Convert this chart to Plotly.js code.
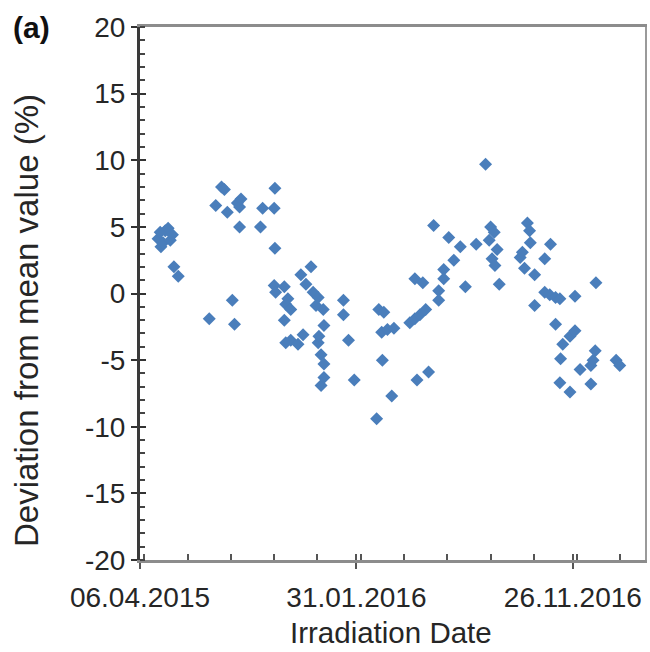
<!DOCTYPE html>
<html>
<head>
<meta charset="utf-8">
<script src="https://cdn.plot.ly/plotly-3.0.1.min.js"></script>
<style>
  html, body { margin: 0; padding: 0; background: #ffffff; }
  #chart { width: 650px; height: 652px; }
</style>
</head>
<body>
<div id="chart"></div>
<script>
// Irradiation dates of the measurements
const irradiationDates = [
  '2015-05-01','2015-05-04','2015-05-05','2015-05-08','2015-05-11','2015-05-15','2015-05-18','2015-05-21','2015-05-23','2015-05-29',
  '2015-07-11','2015-07-20','2015-07-28','2015-08-01','2015-08-05','2015-08-12','2015-08-15','2015-08-19','2015-08-22','2015-08-22',
  '2015-08-24','2015-09-20','2015-09-23','2015-10-09','2015-10-09','2015-10-10','2015-10-10','2015-10-11','2015-10-23','2015-10-23',
  '2015-10-25','2015-10-25','2015-10-28','2015-11-01','2015-11-01','2015-11-11','2015-11-15','2015-11-18','2015-11-22','2015-11-29',
  '2015-12-02','2015-12-06','2015-12-09','2015-12-09','2015-12-10','2015-12-13','2015-12-13','2015-12-16','2015-12-17','2015-12-17',
  '2015-12-17','2016-01-13','2016-01-13','2016-01-20','2016-01-28','2016-02-28','2016-03-02','2016-03-06','2016-03-07','2016-03-09',
  '2016-03-14','2016-03-20','2016-03-23','2016-04-14','2016-04-21','2016-04-21','2016-04-24','2016-04-28','2016-05-02','2016-05-06',
  '2016-05-10','2016-05-17','2016-05-24','2016-05-24','2016-05-31','2016-05-31','2016-06-07','2016-06-14','2016-06-23','2016-06-30',
  '2016-07-15','2016-07-28','2016-08-02','2016-08-04','2016-08-06','2016-08-09','2016-08-10','2016-08-13','2016-08-16','2016-09-14',
  '2016-09-17','2016-09-20','2016-09-24','2016-09-27','2016-09-28','2016-10-04','2016-10-04','2016-10-18','2016-10-18','2016-10-25',
  '2016-10-26','2016-11-02','2016-11-02','2016-11-08','2016-11-08','2016-11-09','2016-11-12','2016-11-22','2016-11-22','2016-11-29',
  '2016-11-29','2016-12-06','2016-12-21','2016-12-21','2016-12-24','2016-12-27','2016-12-28','2017-01-25','2017-01-30'
];

// Deviation from the mean value, in percent
const deviationPct = [
  4.1, 4.6, 3.5, 3.8, 4.7, 4.9, 4.0, 4.4, 2.0, 1.3,
  -1.9, 6.6, 8.0, 7.8, 6.1, -0.5, -2.3, 6.8, 6.5, 5.0,
  7.1, 5.0, 6.4, 6.4, 0.6, 7.9, 3.4, 0.1, 0.5, -2.0,
  -0.8, -3.7, -0.4, -1.2, -3.5, -3.8, 1.4, -3.1, 0.7, 2.0,
  0.1, -0.9, -0.3, -3.7, -3.2, -4.6, -6.9, -1.2, -2.4, -5.3,
  -6.3, -0.5, -1.6, -3.5, -6.5, -9.4, -1.2, -2.9, -5.0, -1.4,
  -2.7, -7.7, -2.6, -2.2, -1.9, 1.1, -6.5, -1.6, 0.8, -1.2,
  -5.9, 5.1, 0.2, -0.5, 1.1, 1.8, 4.2, 2.5, 3.5, 0.5,
  3.7, 9.7, 4.0, 5.0, 2.6, 4.6, 2.1, 3.3, 0.7, 2.7,
  3.1, 1.9, 5.3, 4.7, 3.8, 1.4, -0.9, 2.6, 0.1, -0.1,
  3.7, -0.3, -2.3, -0.4, -6.7, -4.9, -3.8, -3.2, -7.4, -0.2,
  -2.8, -5.7, -5.4, -6.8, -5.0, -4.3, 0.8, -5.0, -5.4
];

// Value axis ticks and their labels (plain hyphen minus)
const valueTicks = [-20, -15, -10, -5, 0, 5, 10, 15, 20];
const valueTickLabels = ['-20', '-15', '-10', '-5', '0', '5', '10', '15', '20'];

// Axis settings
const dateRange = ['2015-04-06', '2017-03-06'];
const dateTickStart = '2015-04-06';
const DAY_MS = 86400000;
const majorDateStep = 300 * DAY_MS;
const minorDateStep = 60 * DAY_MS;
const valueRange = [-20, 20];

const fontFamily = 'Liberation Sans, Arial, sans-serif';
const tickFont = { family: fontFamily, size: 28, color: '#262626' };

const traces = [
  {
    type: 'scatter',
    mode: 'markers',
    x: irradiationDates,
    y: deviationPct,
    marker: { symbol: 'diamond', size: 10, color: '#4a7ebb', line: { width: 0 } },
    showlegend: false,
    hoverinfo: 'x+y'
  },
  // empty helpers that carry the inner major tick marks and the right frame line
  { type: 'scatter', x: [], y: [], xaxis: 'x2', yaxis: 'y2', showlegend: false, hoverinfo: 'skip' },
  { type: 'scatter', x: [], y: [], xaxis: 'x', yaxis: 'y3', showlegend: false, hoverinfo: 'skip' }
];

const layout = {
  width: 650,
  height: 652,
  margin: { l: 140, r: 5, t: 27, b: 92 },
  paper_bgcolor: '#ffffff',
  plot_bgcolor: '#ffffff',
  showlegend: false,
  xaxis: {
    type: 'date',
    range: dateRange,
    tick0: dateTickStart,
    dtick: majorDateStep,
    tickformat: '%d.%m.%Y',
    ticks: 'outside',
    ticklen: 6,
    tickwidth: 2,
    tickcolor: '#555555',
    minor: { dtick: minorDateStep, ticks: 'inside', ticklen: 6, tickwidth: 2, tickcolor: '#555555', showgrid: false },
    showline: true,
    linecolor: '#8c8c8c',
    linewidth: 3,
    mirror: true,
    showgrid: false,
    zeroline: false,
    tickfont: tickFont,
    ticklabelstandoff: 4
  },
  xaxis2: {
    type: 'date',
    overlaying: 'x',
    anchor: 'y',
    side: 'bottom',
    range: dateRange,
    tick0: dateTickStart,
    dtick: majorDateStep,
    ticks: 'inside',
    ticklen: 6,
    tickwidth: 2,
    tickcolor: '#555555',
    showticklabels: false,
    showline: false,
    showgrid: false,
    zeroline: false
  },
  yaxis: {
    range: valueRange,
    tickmode: 'array',
    tickvals: valueTicks,
    ticktext: valueTickLabels,
    ticks: 'outside',
    ticklen: 6,
    tickwidth: 2,
    tickcolor: '#333333',
    minor: { dtick: 1, ticks: 'inside', ticklen: 5, tickwidth: 2, tickcolor: '#444444', showgrid: false },
    showline: true,
    linecolor: '#3a3a3a',
    linewidth: 3,
    showgrid: false,
    zeroline: false,
    tickfont: tickFont
  },
  yaxis2: {
    overlaying: 'y',
    anchor: 'x',
    side: 'left',
    range: valueRange,
    tickmode: 'array',
    tickvals: valueTicks,
    ticks: 'inside',
    ticklen: 6,
    tickwidth: 2,
    tickcolor: '#333333',
    showticklabels: false,
    showline: false,
    showgrid: false,
    zeroline: false
  },
  yaxis3: {
    overlaying: 'y',
    anchor: 'x',
    side: 'right',
    range: valueRange,
    showticklabels: false,
    ticks: '',
    showline: true,
    linecolor: '#9a9a9a',
    linewidth: 2,
    showgrid: false,
    zeroline: false
  },
  annotations: [
    {
      text: '(a)',
      xref: 'paper', yref: 'paper',
      x: -0.215, y: 1.0,
      xanchor: 'center', yanchor: 'middle',
      showarrow: false,
      font: { family: fontFamily, size: 30, color: '#111111', weight: 'bold' }
    },
    {
      // vertical value-axis title, set lower than the plot centre
      text: 'Deviation from mean value (%)',
      xref: 'paper', yref: 'paper',
      x: -0.226, y: 0.45,
      xanchor: 'center', yanchor: 'middle',
      textangle: -90,
      showarrow: false,
      font: { family: fontFamily, size: 33, color: '#262626' }
    },
    {
      // date-axis title along the bottom edge
      text: 'Irradiation Date',
      xref: 'paper', yref: 'paper',
      x: 0.497, y: -0.169,
      xanchor: 'center', yanchor: 'bottom',
      borderpad: 0,
      showarrow: false,
      font: { family: fontFamily, size: 29.5, color: '#262626' }
    }
  ]
};

Plotly.newPlot('chart', traces, layout, { staticPlot: true, displayModeBar: false });
</script>
</body>
</html>
